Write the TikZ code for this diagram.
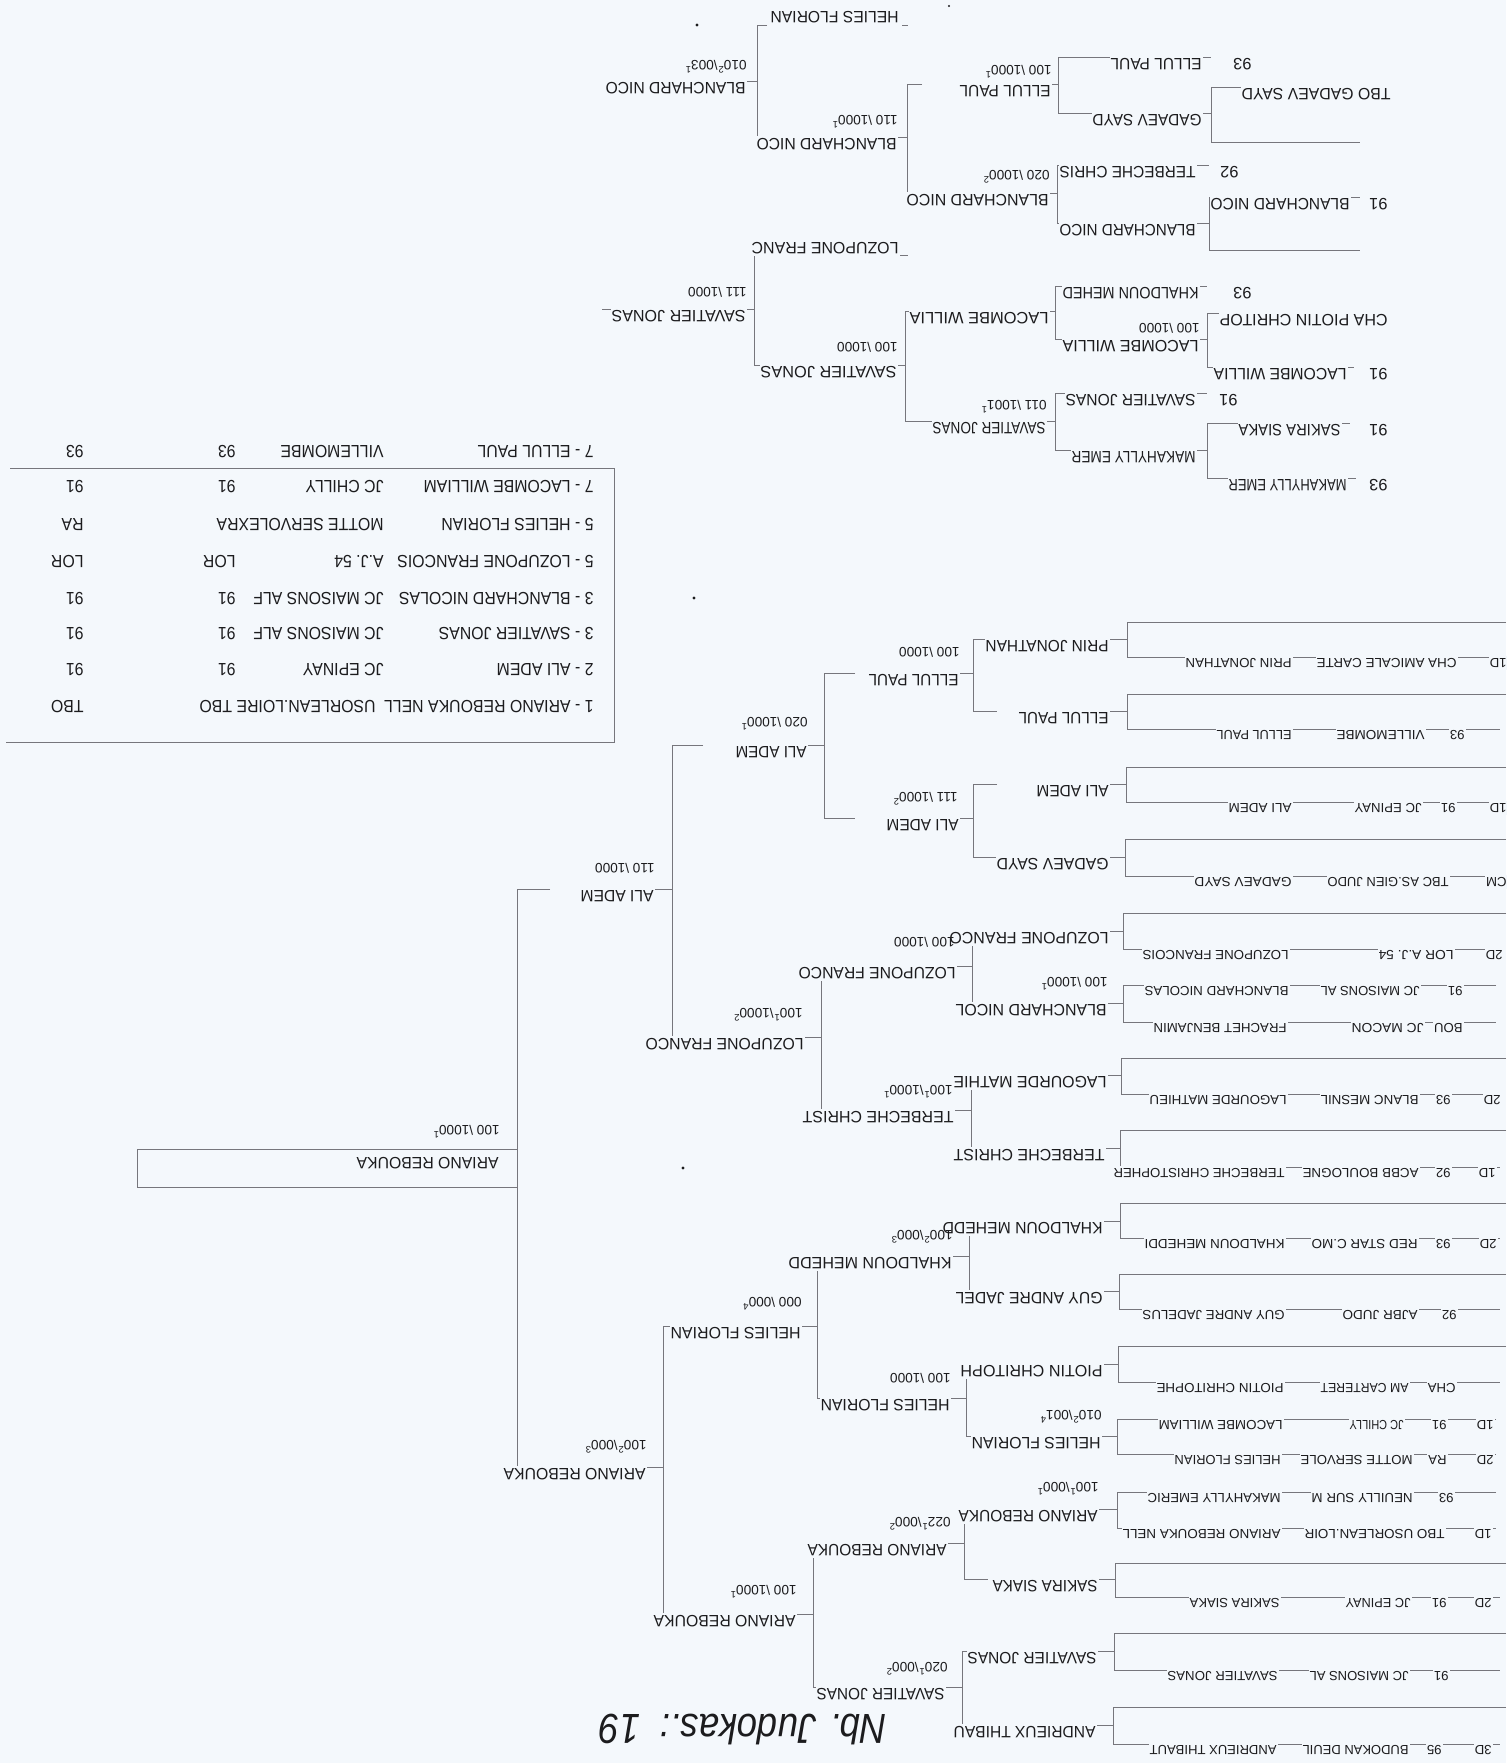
\documentclass[tikz,border=0pt]{standalone}
\usepackage{fontspec}
\usepackage{graphicx}
\setmainfont{Liberation Sans}
\newfontfamily\stretchfam[FakeStretch=0.9]{Liberation Sans}
\definecolor{bg}{RGB}{244,248,252}
\definecolor{lc}{RGB}{118,118,124}
\definecolor{tc}{RGB}{28,28,30}
\newsavebox\fwbox
\newcommand\fitw[2]{\sbox\fwbox{#2}\pgfmathsetmacro\fwr{#1/\the\wd\fwbox}\scalebox{\fwr}[1]{\usebox\fwbox}}
\newcommand\sups[1]{\textsuperscript{#1}}
\tikzset{
 ln/.style={draw=lc, line width=0.45pt},
 nm/.style={rotate=180, font=\fontsize{8.2}{9}\selectfont, text=tc, fill=bg, inner xsep=0.5pt, inner ysep=1.2pt},
 en/.style={rotate=180, font=\fontsize{6.6}{7}\selectfont, text=tc, fill=bg, inner xsep=0.5pt, inner ysep=1.2pt},
 sc/.style={rotate=180, font=\fontsize{6.8}{8}\selectfont, text=tc, inner sep=0pt},
 tb/.style={rotate=180, font=\stretchfam\fontsize{8.8}{10}\selectfont, text=tc, inner sep=0pt},
}
\newcommand\pNH[5]{\node[nm,anchor=base west] (#1) at (#2,#4+1.5) {\fitw{(#2-#3)*0.5}{#5}};}
\newcommand\pNA[5]{\node[nm,anchor=north west,inner ysep=0pt] (#1) at (#2,#4-1.5) {\fitw{(#2-#3)*0.5}{#5}};}
\newcommand\pNC[4]{\node[nm,anchor=base west] (#1) at (#2,#3+1.5) {#4};}
\newcommand\pEN[5]{\node[en,anchor=base west] (#1) at (#2,#4+1.5) {\fitw{(#2-#3)*0.5}{#5}};}
\newcommand\pEC[4]{\node[en,anchor=base west] (#1) at (#2,#3+1.5) {#4};}
\newcommand\pSC[4]{\node[sc,anchor=base west] (#1) at (#2,#3) {#4};}
\newcommand\pTB[4]{\node[tb,anchor=base west] (#1) at (#2,#3) {#4};}
\newcommand\bBrk[5]{\draw[ln] (#1+#4,#2) -- (#1,#2) -- (#1,#3) -- (#1+#5,#3);}
\newcommand\bSlot[3]{\draw[ln] (1506,#2) -- (#1,#2) -- (#1,#3) -- (1500,#3);}
\newcommand\bPair[3]{\draw[ln] (1496,#2) -- (#1,#2) -- (#1,#3) -- (1496,#3);}
\newcommand\bTail[3]{\draw[ln] (#1,#3) -- (#2,#3);}
\begin{document}
\begin{tikzpicture}[x=0.5pt,y=-0.5pt]
\fill[bg] (0,0) rectangle (1506,1763);
\useasboundingbox (0,0) rectangle (1506,1763);

% ================= main draw : entry slots =================
\bSlot{1127}{622}{657}
\bSlot{1127}{694}{729}
\bSlot{1126}{767}{802}
\bSlot{1125}{839}{876}
\bSlot{1123}{913}{949}
\bPair{1123}{985}{1022}
\bSlot{1121}{1058}{1094}
\bSlot{1120}{1130}{1167}
\bSlot{1120}{1203}{1238}
\bSlot{1119}{1274}{1309}
\bSlot{1118}{1346}{1382}
\bPair{1117}{1419}{1454}
\bPair{1117}{1492}{1528}
\bSlot{1115}{1563}{1597}
\bSlot{1114}{1633}{1670}
\bSlot{1113}{1707}{1744}
\bTail{1110}{1127}{639}
\bTail{1110}{1127}{711}
\bTail{1110}{1126}{784}
\bTail{1110}{1125}{857}
\bTail{1110}{1123}{931}
\bTail{1108}{1123}{1003}
\bTail{1108}{1121}{1075}
\bTail{1106}{1120}{1148}
\bTail{1104}{1120}{1221}
\bTail{1104}{1119}{1291}
\bTail{1104}{1118}{1364}
\bTail{1102}{1117}{1436}
\bTail{1099}{1117}{1509}
\bTail{1099}{1115}{1579}
\bTail{1098}{1114}{1651}
\bTail{1097}{1113}{1725}
\bBrk{973}{639}{711}{24}{24}
\bBrk{973}{784}{857}{24}{24}
\bBrk{972}{931}{1003}{24}{24}
\bBrk{971}{1075}{1148}{24}{24}
\bBrk{969}{1221}{1291}{24}{24}
\bBrk{966}{1364}{1436}{24}{24}
\bBrk{964}{1509}{1579}{24}{24}
\bBrk{962}{1651}{1725}{24}{24}
\bTail{960}{973}{673}
\bTail{960}{973}{818}
\bTail{957}{972}{966}
\bTail{955}{971}{1110}
\bTail{953}{969}{1256}
\bTail{951}{966}{1398}
\bTail{948}{964}{1543}
\bTail{946}{962}{1687}
\bBrk{824}{673}{818}{31}{31}
\bBrk{821}{966}{1110}{31}{31}
\bBrk{817}{1256}{1398}{31}{31}
\bBrk{813}{1543}{1687}{31}{31}
\bTail{808}{824}{745}
\bTail{805}{821}{1037}
\bTail{802}{817}{1326}
\bTail{797}{813}{1614}
\bBrk{672}{745}{1037}{31}{31}
\bBrk{663}{1326}{1614}{31}{31}
\bTail{655}{672}{889}
\bTail{647}{663}{1467}
\bBrk{517}{889}{1467}{33}{0}
\draw[ln] (137,1149) rectangle (517,1187);

% ================= upper pools =================
\bBrk{757}{25}{137}{10}{12}
\bTail{902}{908}{25}
\bTail{747}{757}{81}
\bBrk{907}{84}{193}{15}{12}
\bTail{898}{907}{137}
\bBrk{1058}{57}{113}{54}{36}
\bTail{1052}{1058}{84}
\bTail{1203}{1211}{57}
\bBrk{1211}{87}{142}{36}{149}
\bTail{1203}{1211}{113}
\bBrk{1057}{165}{223}{6}{6}
\bTail{1197}{1209}{165}
\bTail{1050}{1057}{193}
\bBrk{1209}{197}{250}{5}{151}
\bTail{1351}{1360}{197}
\bTail{1197}{1209}{223}
\bTail{900}{908}{255}
\draw[ln] (754,256) -- (754,365) -- (764,365);
\bTail{747}{754}{309}
\bTail{602}{612}{309}
\bBrk{905}{311}{421}{6}{29}
\bTail{898}{905}{365}
\bBrk{1055}{286}{339}{9}{9}
\bTail{1200}{1207}{286}
\bTail{1050}{1055}{311}
\bBrk{1207}{313}{367}{14}{8}
\bTail{1348}{1354}{367}
\bTail{1200}{1207}{339}
\bBrk{1055}{393}{450}{12}{18}
\bTail{1197}{1207}{393}
\bTail{1047}{1055}{421}
\bBrk{1207}{423}{478}{33}{23}
\bTail{1342}{1350}{423}
\bTail{1348}{1356}{478}
\bTail{1197}{1207}{450}

% ================= results table frame =================
\draw[ln] (10,468) -- (614,468) -- (614,742) -- (6,742);

\fill[tc] (697,25) circle (1.6);
\fill[tc] (949,6) circle (1.2);
\fill[tc] (694,598) circle (1.6);
\fill[tc] (683,1168) circle (1.6);

% ================= entries =================
\pEN{e1a}{1293}{1187}{657}{PRIN JONATHAN}
\pEN{e1b}{1458}{1318}{657}{CHA AMICALE CARTE}
\pEC{e1c}{1508}{657}{1D}
\pEN{e2a}{1293}{1218}{729}{ELLUL PAUL}
\pEN{e2b}{1426}{1338}{729}{VILLEMOMBE}
\pEC{e2c}{1466}{729}{93}
\pEN{e3a}{1293}{1230}{802}{ALI ADEM}
\pEN{e3b}{1423}{1356}{802}{JC EPINAY}
\pEC{e3c}{1457}{802}{91}
\pEC{e3d}{1508}{802}{1D}
\pEN{e4a}{1293}{1196}{876}{GADAEV SAYD}
\pEN{e4b}{1450}{1329}{876}{TBC AS.GIEN JUDO}
\pEC{e4c}{1508}{876}{CM}
\pEN{e5a}{1290}{1144}{949}{LOZUPONE FRANCOIS}
\pEN{e5b}{1455}{1380}{949}{LOR A.J. 54}
\pEC{e5c}{1504}{949}{2D}
\pEN{e6a}{1290}{1146}{985}{BLANCHARD NICOLAS}
\pEN{e6b}{1421}{1322}{985}{JC MAISONS AL}
\pEC{e6c}{1464}{985}{91}
\pEN{e6d}{1288}{1155}{1022}{FRACHET BENJAMIN}
\pEN{e6e}{1425}{1353}{1022}{JC MACON}
\pEC{e6f}{1464}{1022}{BOU}
\pEN{e7a}{1288}{1151}{1094}{LAGOURDE MATHIEU}
\pEN{e7b}{1420}{1322}{1094}{BLANC MESNIL}
\pEC{e7c}{1452}{1094}{93}
\pEC{e7d}{1502}{1094}{2D}
\pEN{e8a}{1286}{1115}{1167}{TERBECHE CHRISTOPHER}
\pEN{e8b}{1420}{1304}{1167}{ACBB BOULOGNE}
\pEC{e8c}{1452}{1167}{92}
\pEC{e8d}{1497}{1167}{1D}
\pEN{e9a}{1286}{1146}{1238}{KHALDOUN MEHEDDI}
\pEN{e9b}{1419}{1313}{1238}{RED STAR C.MO}
\pEC{e9c}{1452}{1238}{93}
\pEC{e9d}{1498}{1238}{2D}
\pEN{e10a}{1286}{1144}{1309}{GUY ANDRE JADELUS}
\pEN{e10b}{1419}{1344}{1309}{AJBR JUDO}
\pEC{e10c}{1458}{1309}{92}
\pEN{e11a}{1285}{1158}{1382}{PIOTIN CHRITOPHE}
\pEN{e11b}{1410}{1322}{1382}{AM CARTERET}
\pEC{e11c}{1457}{1382}{CHA}
\pEN{e12a}{1284}{1160}{1419}{LACOMBE WILLIAM}
\pEN{e12b}{1405}{1351}{1419}{JC CHILLY}
\pEC{e12c}{1448}{1419}{91}
\pEC{e12d}{1495}{1419}{1D}
\pEN{e12e}{1282}{1176}{1454}{HELIES FLORIAN}
\pEN{e12f}{1414}{1302}{1454}{MOTTE SERVOLE}
\pEC{e12g}{1448}{1454}{RA}
\pEC{e12h}{1495}{1454}{2D}
\pEN{e13a}{1282}{1149}{1492}{MAKAHYLLY EMERIC}
\pEN{e13b}{1414}{1313}{1492}{NEUILLY SUR M}
\pEC{e13c}{1455}{1492}{93}
\pEN{e13d}{1282}{1124}{1528}{ARIANO REBOUKA NELL}
\pEN{e13e}{1446}{1306}{1528}{TBO USORLEAN.LOIR}
\pEC{e13f}{1493}{1528}{1D}
\pEN{e14a}{1281}{1191}{1597}{SAKIRA SIAKA}
\pEN{e14b}{1412}{1347}{1597}{JC EPINAY}
\pEC{e14c}{1448}{1597}{91}
\pEC{e14d}{1493}{1597}{2D}
\pEN{e15a}{1279}{1169}{1670}{SAVATIER JONAS}
\pEN{e15b}{1410}{1311}{1670}{JC MAISONS AL}
\pEC{e15c}{1450}{1670}{91}
\pEN{e16a}{1278}{1151}{1744}{ANDRIEUX THIBAUT}
\pEN{e16b}{1410}{1304}{1744}{BUDOKAN DEUIL}
\pEC{e16c}{1443}{1744}{95}
\pEC{e16d}{1493}{1744}{3D}

% ================= main draw winners =================
\pNH{w1}{1110}{987}{639}{PRIN JONATHAN}
\pNH{w2}{1110}{1020}{711}{ELLUL PAUL}
\pNH{w3}{1110}{1038}{784}{ALI ADEM}
\pNH{w4}{1110}{998}{857}{GADAEV SAYD}
\pNH{w5}{1110}{951}{931}{LOZUPONE FRANCO}
\pNH{w6}{1108}{957}{1003}{BLANCHARD NICOL}
\pNH{w7}{1108}{955}{1075}{LAGOURDE MATHIE}
\pNH{w8}{1106}{955}{1148}{TERBECHE CHRIST}
\pNH{w9}{1104}{944}{1221}{KHALDOUN MEHEDD}
\pNH{w10}{1104}{957}{1291}{GUY ANDRE JADEL}
\pNH{w11}{1104}{962}{1364}{PIOTIN CHRITOPH}
\pNH{w12}{1102}{973}{1436}{HELIES FLORIAN}
\pNH{w13}{1099}{960}{1509}{ARIANO REBOUKA}
\pNH{w14}{1099}{994}{1579}{SAKIRA SIAKA}
\pNH{w15}{1098}{969}{1651}{SAVATIER JONAS}
\pNH{w16}{1097}{955}{1725}{ANDRIEUX THIBAU}
\pNH{x1}{960}{870}{673}{ELLUL PAUL}
\pNH{x2}{960}{888}{818}{ALI ADEM}
\pNH{x3}{957}{800}{966}{LOZUPONE FRANCO}
\pNH{x4}{955}{804}{1110}{TERBECHE CHRIST}
\pNH{x5}{953}{790}{1256}{KHALDOUN MEHEDD}
\pNH{x6}{951}{822}{1398}{HELIES FLORIAN}
\pNH{x7}{948}{809}{1543}{ARIANO REBOUKA}
\pNH{x8}{946}{818}{1687}{SAVATIER JONAS}
\pNH{y1}{808}{737}{745}{ALI ADEM}
\pNH{y2}{805}{647}{1037}{LOZUPONE FRANCO}
\pNH{y3}{802}{672}{1326}{HELIES FLORIAN}
\pNH{y4}{797}{655}{1614}{ARIANO REBOUKA}
\pNH{z1}{655}{582}{889}{ALI ADEM}
\pNH{z2}{647}{505}{1467}{ARIANO REBOUKA}
\pNH{fin}{500}{358}{1156}{ARIANO REBOUKA}

\pSC{s6}{1108}{977}{100 \textbackslash 1000\sups{1}}
\pSC{s12}{1102}{1410}{010\sups{2}\textbackslash 001\sups{4}}
\pSC{s13}{1099}{1482}{100\sups{1}\textbackslash 000\sups{1}}
\pSC{t1}{960}{647}{100 \textbackslash 1000}
\pSC{t2}{958}{792}{111 \textbackslash 1000\sups{2}}
\pSC{t3}{955}{937}{100 \textbackslash 1000}
\pSC{t4}{953}{1085}{100\sups{1}\textbackslash 1000\sups{1}}
\pSC{t5}{953}{1230}{100\sups{2}\textbackslash 000\sups{3}}
\pSC{t6}{951}{1373}{100 \textbackslash 1000}
\pSC{t7}{951}{1517}{022\sups{1}\textbackslash 000\sups{2}}
\pSC{t8}{948}{1662}{020\sups{1}\textbackslash 000\sups{2}}
\pSC{u1}{808}{717}{020 \textbackslash 1000\sups{1}}
\pSC{u2}{803}{1008}{100\sups{1}\textbackslash 1000\sups{2}}
\pSC{u3}{802}{1297}{000 \textbackslash 000\sups{4}}
\pSC{u4}{797}{1585}{100 \textbackslash 1000\sups{1}}
\pSC{v1}{655}{863}{110 \textbackslash 1000}
\pSC{v2}{647}{1440}{100\sups{2}\textbackslash 000\sups{3}}
\pSC{fs}{500}{1125}{100 \textbackslash 1000\sups{1}}

% ================= upper pools names =================
\pNA{pa0}{900}{772}{25}{HELIES FLORIAN}
\pNH{pa1}{747}{607}{81}{BLANCHARD NICO}
\pNH{pa2}{898}{758}{137}{BLANCHARD NICO}
\pNH{pa3}{1052}{961}{84}{ELLUL PAUL}
\pNH{pa4}{1203}{1112}{57}{ELLUL PAUL}
\pNC{pa5}{1253}{57}{93}
\pNH{pa6}{1203}{1094}{113}{GADAEV SAYD}
\pNH{pa7}{1392}{1243}{87}{TBO GADAEV SAYD}
\pNH{pa8}{1050}{908}{193}{BLANCHARD NICO}
\pNH{pa9}{1197}{1061}{165}{TERBECHE CHRIS}
\pNC{pa10}{1240}{165}{92}
\pNH{pa11}{1197}{1061}{223}{BLANCHARD NICO}
\pNH{pa12}{1351}{1212}{197}{BLANCHARD NICO}
\pNC{pa13}{1389}{197}{91}
\pNA{pb0}{900}{753}{256}{LOZUPONE FRANC}
\pNH{pb1}{747}{613}{309}{SAVATIER JONAS}
\pNH{pb2}{898}{762}{365}{SAVATIER JONAS}
\pNH{pb3}{1050}{911}{311}{LACOMBE WILLIA}
\pNH{pb4}{1047}{934}{421}{SAVATIER JONAS}
\pNH{pb5}{1200}{1064}{286}{KHALDOUN MEHED}
\pNC{pb6}{1253}{286}{93}
\pNH{pb7}{1200}{1064}{339}{LACOMBE WILLIA}
\pNH{pb8}{1389}{1221}{313}{CHA PIOTIN CHRITOP}
\pNH{pb9}{1348}{1215}{367}{LACOMBE WILLIA}
\pNC{pb10}{1389}{367}{91}
\pNH{pb11}{1197}{1067}{393}{SAVATIER JONAS}
\pNC{pb12}{1239}{393}{91}
\pNH{pb13}{1197}{1073}{450}{MAKAHYLLY EMER}
\pNH{pb14}{1342}{1240}{423}{SAKIRA SIAKA}
\pNC{pb15}{1389}{423}{91}
\pNH{pb16}{1348}{1230}{478}{MAKAHYLLY EMER}
\pNC{pb17}{1389}{478}{93}
\pSC{qa1}{747}{60}{010\sups{2}\textbackslash 003\sups{1}}
\pSC{qa2}{898}{115}{110 \textbackslash 1000\sups{1}}
\pSC{qa3}{1052}{65}{100 \textbackslash 1000\sups{1}}
\pSC{qa4}{1050}{170}{020 \textbackslash 1000\sups{2}}
\pSC{qb1}{747}{287}{111 \textbackslash 1000}
\pSC{qb2}{898}{342}{100 \textbackslash 1000}
\pSC{qb3}{1200}{323}{100 \textbackslash 1000}
\pSC{qb4}{1047}{400}{011 \textbackslash 1001\sups{1}}

% ================= results table =================
\pTB{r1a}{594}{445}{7 - ELLUL PAUL}
\pTB{r1b}{384}{445}{VILLEMOMBE}
\pTB{r1c}{236}{445}{93}
\pTB{r1d}{84}{445}{93}
\pTB{r2a}{594}{480}{7 - LACOMBE WILLIAM}
\pTB{r2b}{384}{480}{JC CHILLY}
\pTB{r2c}{236}{480}{91}
\pTB{r2d}{84}{480}{91}
\pTB{r3a}{594}{518}{5 - HELIES FLORIAN}
\pTB{r3b}{384}{518}{MOTTE SERVOLEXRA}
\pTB{r3d}{84}{518}{RA}
\pTB{r4a}{594}{555}{5 - LOZUPONE FRANCOIS}
\pTB{r4b}{384}{555}{A.J. 54}
\pTB{r4c}{236}{555}{LOR}
\pTB{r4d}{84}{555}{LOR}
\pTB{r5a}{594}{592}{3 - BLANCHARD NICOLAS}
\pTB{r5b}{384}{592}{JC MAISONS ALF}
\pTB{r5c}{236}{592}{91}
\pTB{r5d}{84}{592}{91}
\pTB{r6a}{594}{627}{3 - SAVATIER JONAS}
\pTB{r6b}{384}{627}{JC MAISONS ALF}
\pTB{r6c}{236}{627}{91}
\pTB{r6d}{84}{627}{91}
\pTB{r7a}{594}{663}{2 - ALI ADEM}
\pTB{r7b}{384}{663}{JC EPINAY}
\pTB{r7c}{236}{663}{91}
\pTB{r7d}{84}{663}{91}
\pTB{r8a}{594}{700}{1 - ARIANO REBOUKA NELL}
\pTB{r8b}{376}{700}{USORLEAN.LOIRE TBO}
\pTB{r8d}{84}{700}{TBO}

\node[rotate=180, anchor=base west, inner sep=0pt, text=tc, font=\itshape\fontsize{21}{24}\selectfont] (title) at (887,1714) {\fitw{143.5}{Nb. Judokas.:\ \ 19}};
\end{tikzpicture}
\end{document}
